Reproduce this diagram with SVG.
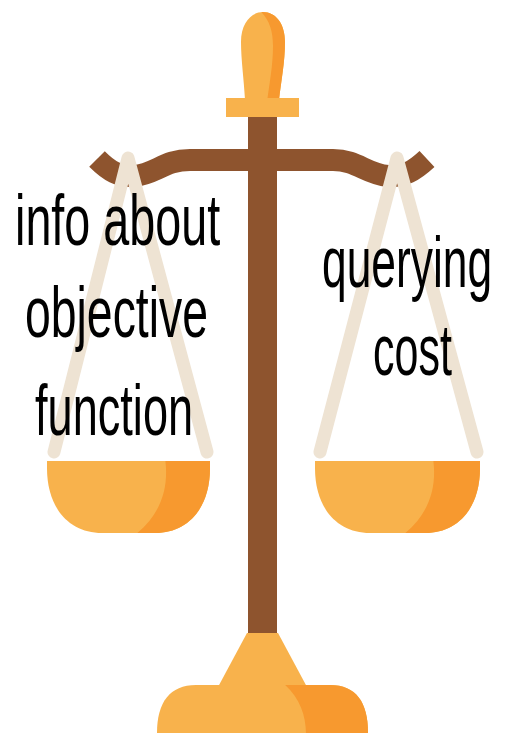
<svg xmlns="http://www.w3.org/2000/svg" width="507" height="733" viewBox="0 0 507 733">
  <style>
    .light { fill: #F8B24C; }
    .dark { fill: #F7992F; }
    .wood { fill: #8E542E; }
    .beam { fill: none; stroke: #8E542E; stroke-width: 22; stroke-linecap: butt; stroke-linejoin: round; }
    .cord { fill: none; stroke: #EEE3D3; stroke-width: 13; stroke-linecap: round; stroke-linejoin: round; }
    .label { font-family: "Liberation Sans", Arial, sans-serif; font-size: 72px; fill: #000; }
  </style>
  <defs>
    <path id="panShapeL" d="M47,461 H210 V468 C210,508 188,533 155,533 H102 C69,533 47,508 47,468 Z"/>
    <path id="panShapeR" d="M315,461 H480 V468 C480,508 458,533 425,533 H370 C337,533 315,508 315,468 Z"/>
    <path id="finialShape" d="M245,100 C244,80 241,60 241,42 C241,22 252,12 263,12 C276,12 285,24 285,42 C285,62 281,82 279,100 Z"/>
    <path id="baseShape" d="M157,733 C157,702 170,685 196,685 H330 C356,685 368,702 368,733 Z"/>
    <clipPath id="clipPanL"><use href="#panShapeL"/></clipPath>
    <clipPath id="clipPanR"><use href="#panShapeR"/></clipPath>
    <clipPath id="clipFinial"><use href="#finialShape"/></clipPath>
    <clipPath id="clipBase"><use href="#baseShape"/></clipPath>
  </defs>

  <!-- beam -->
  <g id="beam">
    <path class="beam" d="M97,159 C109,171 119,177 134,176 C156,174 164,160 190,160 H333 C357,160 366,174 388,176 C404,177 414,171 427,159"/>
  </g>

  <!-- central post -->
  <g id="post">
    <rect class="wood" x="248" y="112" width="29" height="524"/>
  </g>

  <!-- finial on top -->
  <g id="finial">
    <use href="#finialShape" class="light"/>
    <path class="dark" clip-path="url(#clipFinial)" d="M257,8 C269,18 273,30 273,46 C273,66 269,86 267,102 L295,102 L295,8 Z"/>
    <rect class="light" x="226" y="98" width="73" height="19"/>
  </g>

  <!-- left hanger cords -->
  <g id="cords-left">
    <path class="cord" d="M54,452 L128,158 L207,452"/>
  </g>

  <!-- right hanger cords -->
  <g id="cords-right">
    <path class="cord" d="M320,452 L397,158 L477,452"/>
  </g>

  <!-- left pan -->
  <g id="pan-left">
    <use href="#panShapeL" class="light"/>
    <path class="dark" clip-path="url(#clipPanL)" d="M165,458 C170,492 158,520 128,540 L220,540 L220,458 Z"/>
  </g>

  <!-- right pan -->
  <g id="pan-right">
    <use href="#panShapeR" class="light"/>
    <path class="dark" clip-path="url(#clipPanR)" d="M433,458 C438,492 426,520 396,540 L490,540 L490,458 Z"/>
  </g>

  <!-- foot -->
  <g id="foot">
    <polygon class="light" points="247,633 278,633 307,687 218,687"/>
    <use href="#baseShape" class="light"/>
    <path class="dark" clip-path="url(#clipBase)" d="M283,683 C300,698 306,715 306,735 L375,735 L375,683 Z"/>
  </g>

  <!-- labels (condensed horizontally) -->
  <g id="label-left">
    <text class="label" transform="translate(15,245) scale(0.649,1)">info about</text>
    <text class="label" transform="translate(25,337) scale(0.644,1)">objective</text>
    <text class="label" transform="translate(35,435) scale(0.627,1)">function</text>
  </g>
  <g id="label-right">
    <text class="label" transform="translate(322,287) scale(0.616,1)">querying</text>
    <text class="label" transform="translate(373,375) scale(0.598,1)">cost</text>
  </g>
</svg>
